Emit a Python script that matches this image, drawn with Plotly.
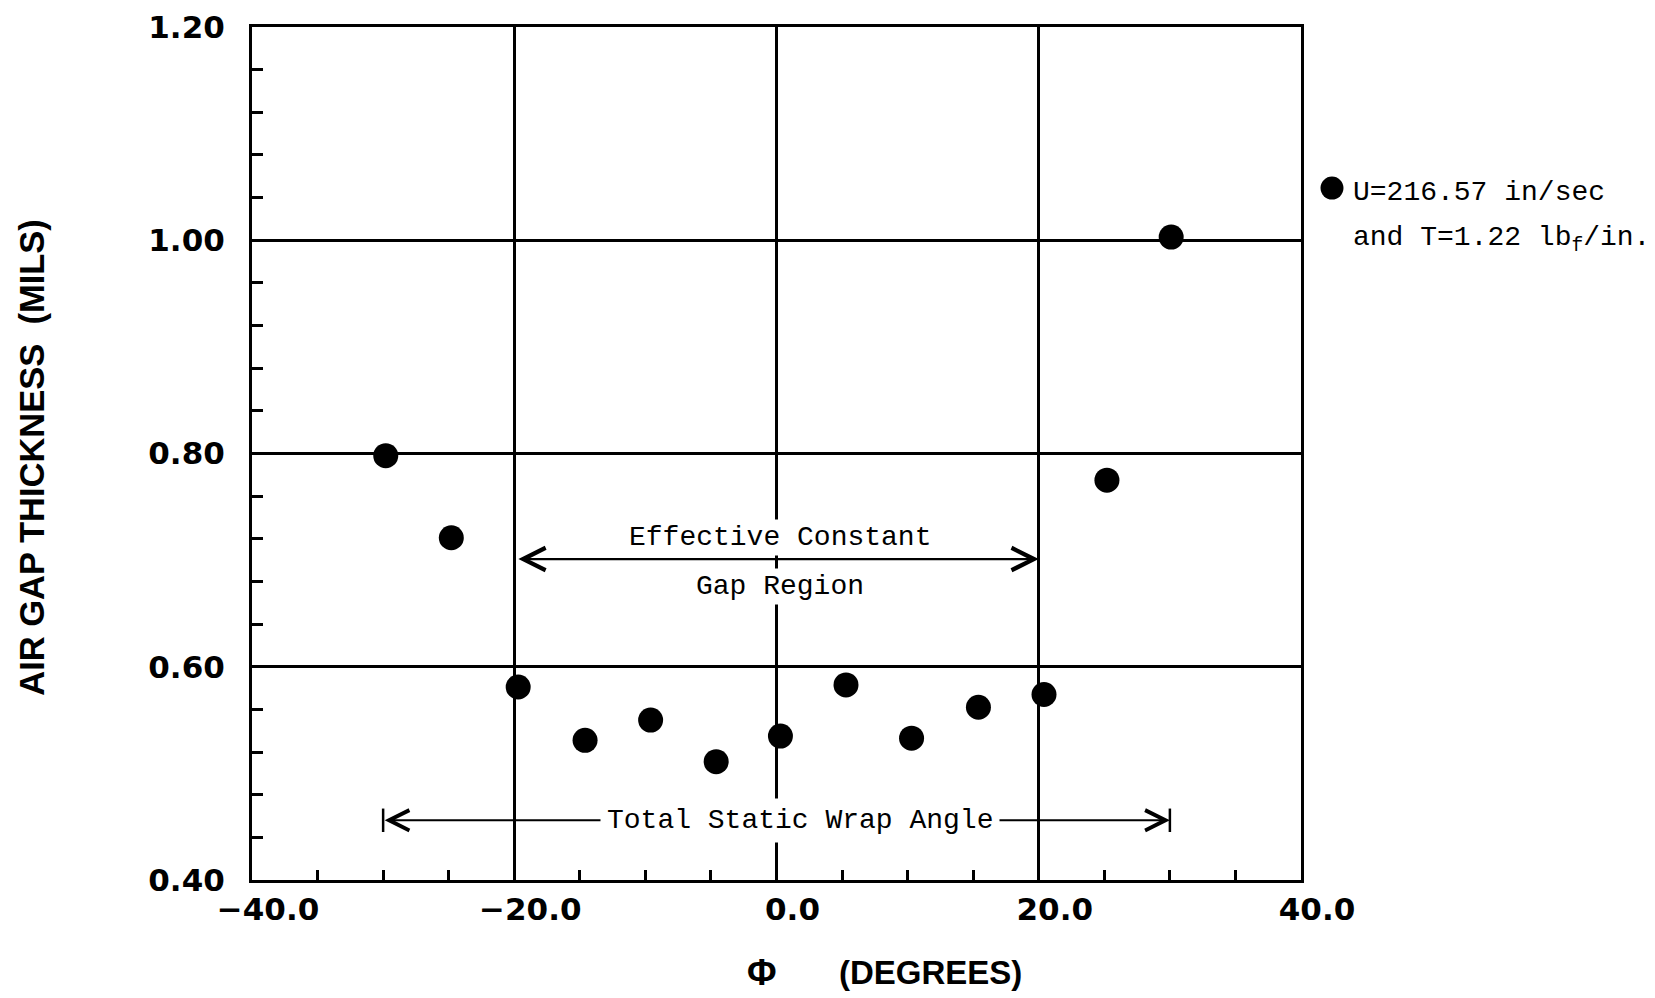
import plotly.graph_objects as go

# ---- data ----
phi_deg = [-29.8, -24.8, -19.7, -14.6, -9.6, -4.6, 0.3, 5.3, 10.3, 15.4, 20.4, 25.2, 30.1]
gap_mils = [0.798, 0.721, 0.581, 0.531, 0.550, 0.511, 0.535, 0.583, 0.533, 0.562, 0.574, 0.775, 1.003]

x_ticks = [-40, -20, 0, 20, 40]
x_tick_text = ["\u221240.0", "\u221220.0", "0.0", "20.0", "40.0"]
y_ticks = [0.4, 0.6, 0.8, 1.0, 1.2]
y_tick_text = ["0.40", "0.60", "0.80", "1.00", "1.20"]

legend_line1 = "U=216.57 in/sec"
legend_line2 = "and T=1.22 lb<sub>f</sub>/in."

effective_region = [-19.8, 20.0]
effective_y = 0.701
wrap_region = [-30.0, 30.0]
wrap_y = 0.456

BLACK = "black"
MONO = "Liberation Mono"
MONO_SIZE = 28

fig = go.Figure()
fig.add_trace(go.Scatter(
    x=phi_deg, y=gap_mils, mode="markers",
    marker=dict(size=25, color=BLACK, line=dict(width=0)),
    showlegend=False, cliponaxis=False,
))

axis_common = dict(
    showline=True, linecolor=BLACK, linewidth=3, mirror=True,
    showgrid=True, gridcolor=BLACK, gridwidth=2.5, zeroline=False,
    ticks="inside", ticklen=11, tickwidth=3, tickcolor=BLACK,
    ticklabeloverflow="allow", automargin=False,
    tickfont=dict(family="DejaVu Sans", size=31, color=BLACK, weight="bold"),
)

fig.update_xaxes(
    range=[-40, 40], tickvals=x_ticks, ticktext=x_tick_text,
    minor=dict(dtick=5, tick0=0, ticks="inside", ticklen=10, tickwidth=3,
               tickcolor=BLACK, showgrid=False),
    ticklabelshift=16, ticklabelstandoff=0,
    **axis_common,
)
fig.update_yaxes(
    range=[0.4, 1.2], tickvals=y_ticks, ticktext=y_tick_text,
    minor=dict(dtick=0.04, tick0=0.4, ticks="inside", ticklen=11, tickwidth=3,
               tickcolor=BLACK, showgrid=False),
    ticklabelstandoff=18,
    **axis_common,
)

annotations = []
# Effective constant gap region arrow
annotations.append(dict(
    x=effective_region[1], y=effective_y, ax=effective_region[0], ay=effective_y,
    xref="x", yref="y", axref="x", ayref="y", text="", showarrow=True,
    arrowhead=5, startarrowhead=5, arrowside="end+start", arrowwidth=2.2,
    arrowsize=2, startarrowsize=2, arrowcolor=BLACK, standoff=0, startstandoff=0,
))
annotations.append(dict(
    x=0.3, y=0.721, xref="x", yref="y", text="Effective Constant", showarrow=False,
    xanchor="center", yanchor="middle",
    font=dict(family=MONO, size=MONO_SIZE, color=BLACK), bgcolor="white", borderpad=2,
))
annotations.append(dict(
    x=0.3, y=0.675, xref="x", yref="y", text="Gap Region", showarrow=False,
    xanchor="center", yanchor="middle",
    font=dict(family=MONO, size=MONO_SIZE, color=BLACK), bgcolor="white", borderpad=2,
))
# Total static wrap angle arrow
annotations.append(dict(
    x=wrap_region[1], y=wrap_y, ax=wrap_region[0], ay=wrap_y,
    xref="x", yref="y", axref="x", ayref="y", text="", showarrow=True,
    arrowhead=5, startarrowhead=5, arrowside="end+start", arrowwidth=2,
    arrowsize=2, startarrowsize=2, arrowcolor=BLACK, standoff=0, startstandoff=0,
))
annotations.append(dict(
    x=1.8, y=wrap_y, xref="x", yref="y", text="Total Static Wrap Angle", showarrow=False,
    xanchor="center", yanchor="middle",
    font=dict(family=MONO, size=MONO_SIZE, color=BLACK), bgcolor="white", borderpad=6,
))
# Legend text (paper coords relative to plot area 853 px tall)
annotations.append(dict(
    x=1.0477, y=0.8054, xref="paper", yref="paper", xanchor="left", yanchor="middle",
    text=legend_line1, showarrow=False, font=dict(family=MONO, size=MONO_SIZE, color=BLACK),
))
annotations.append(dict(
    x=1.0477, y=0.7503, xref="paper", yref="paper", xanchor="left", yanchor="middle",
    text=legend_line2, showarrow=False, font=dict(family=MONO, size=MONO_SIZE, color=BLACK),
))
# Axis titles
annotations.append(dict(
    x=-0.2097, y=0.495, xref="paper", yref="paper", textangle=-90,
    xanchor="center", yanchor="middle",
    text="AIR GAP THICKNESS  (MILS)", showarrow=False,
    font=dict(family="Liberation Sans", size=34.5, color=BLACK, weight="bold"),
))
annotations.append(dict(
    x=0.486, y=-0.109, xref="paper", yref="paper", xanchor="center", yanchor="middle",
    text="\u03a6", showarrow=False,
    font=dict(family="Liberation Sans", size=36, color=BLACK, weight="bold"),
))
annotations.append(dict(
    x=0.647, y=-0.109, xref="paper", yref="paper", xanchor="center", yanchor="middle",
    text="(DEGREES)", showarrow=False,
    font=dict(family="Liberation Sans", size=33, color=BLACK, weight="bold"),
))

shapes = []
for xv in wrap_region:
    shapes.append(dict(type="line", xref="x", yref="y", x0=xv, x1=xv,
                       y0=wrap_y - 0.011, y1=wrap_y + 0.011,
                       line=dict(color=BLACK, width=2.5)))
# legend glyph
shapes.append(dict(type="circle", xref="paper", yref="paper",
                   x0=1.0186, x1=1.0405, y0=0.7977, y1=0.8247,
                   fillcolor=BLACK, line=dict(color=BLACK, width=0)))

fig.update_layout(
    width=1647, height=990,
    margin=dict(l=244, r=354, t=19, b=118),
    paper_bgcolor="white", plot_bgcolor="white",
    annotations=annotations, shapes=shapes, showlegend=False,
)

fig.write_html("out.html")
